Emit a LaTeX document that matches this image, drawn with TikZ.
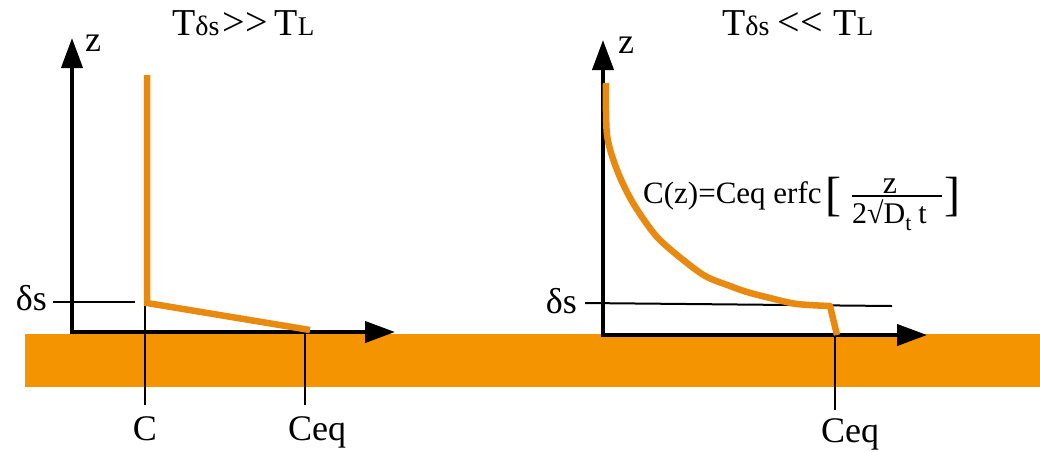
\documentclass[tikz,border=0pt]{standalone}
\usepackage{fontspec}
\setmainfont{Liberation Serif}[Ligatures=NoCommon]
\usetikzlibrary{arrows.meta}
\definecolor{band}{RGB}{243,148,0}
\definecolor{conc}{RGB}{232,137,16}
\begin{document}
\begin{tikzpicture}[x=1pt,y=-1pt,
  axisline/.style={line width=4pt,-{Triangle[length=30pt,width=21pt]}},
  tickline/.style={line width=2pt},
  concline/.style={draw=conc,line width=6.5pt,line join=miter},
  lbl/.style={font=\fontsize{36}{36}\selectfont,inner sep=0pt,anchor=base},
  title/.style={font=\fontsize{38}{38}\selectfont,inner sep=0pt,anchor=base west}]
\useasboundingbox (0,0) rectangle (1040,451);
% substrate band
\fill[band] (25,334) rectangle (1040,387);

% ---------- left panel ----------
\coordinate (LO) at (72,334);
\coordinate (LZ) at (72,38);
\coordinate (LOh) at (70,332);
\coordinate (LX) at (395,332);
\draw[axisline] (LO) -- (LZ);
\draw[axisline] (LOh) -- (LX);
\node[lbl,anchor=base west] (lz) at (85,51) {z};
\node[title] (t1) at (172,35) {T{\fontsize{28}{28}\selectfont δs}\hspace{3pt}{\fontsize{40}{40}\selectfont >{}>}\hspace{7pt}T{\fontsize{27}{27}\selectfont L}};

\coordinate (ds1a) at (53,302);
\coordinate (ds1b) at (135,302);
\draw[tickline] (ds1a) -- (ds1b);
\node[lbl,anchor=base east] (ds1) at (47,310) {δs};

\coordinate (Ctop) at (145,297);
\coordinate (Cbot) at (145,405);
\draw[tickline] (Ctop) -- (Cbot);
\node[lbl] (C) at (145,440) {C};

\coordinate (Ceq1top) at (305,333);
\coordinate (Ceq1bot) at (305,405);
\draw[tickline] (Ceq1top) -- (Ceq1bot);
\node[lbl] (Ceq1) at (317,440) {Ceq};

\coordinate (p1) at (147,75);
\coordinate (p2) at (147,303);
\coordinate (p3) at (310,330);
\draw[concline] (p1) -- (p2) -- (p3);

% ---------- right panel ----------
\coordinate (RO) at (603,337);
\coordinate (RZ) at (603,40);
\coordinate (ROh) at (601,335);
\coordinate (RX) at (927,335);
\draw[axisline] (RO) -- (RZ);
\draw[axisline] (ROh) -- (RX);
\node[lbl,anchor=base west] (rz) at (618,53) {z};
\node[title] (t2) at (722,35) {T{\fontsize{28}{28}\selectfont δs}\hspace{8pt}{\fontsize{40}{40}\selectfont <{}<}\hspace{11pt}T{\fontsize{27}{27}\selectfont L}};

\coordinate (ds2a) at (585,303);
\coordinate (ds2b) at (892,306);
\draw[tickline] (ds2a) -- (ds2b);
\node[lbl,anchor=base east] (ds2) at (577,313) {δs};

\coordinate (Ceq2top) at (835,337);
\coordinate (Ceq2bot) at (835,410);
\draw[tickline] (Ceq2top) -- (Ceq2bot);
\node[lbl] (Ceq2) at (850,442) {Ceq};

\coordinate (q0) at (606,83);
\coordinate (qend) at (830,306);
\coordinate (qbot) at (837,335);
\draw[concline,line join=round] plot[smooth,tension=0.5] coordinates {(606,83) (607,135) (617,170) (633,203) (657,237) (687,263) (707,277) (730,286) (747,292) (770,298) (797,304) (830,306)} -- (qbot);

% formula
\node[inner sep=0pt,anchor=base west,font=\fontsize{31}{31}\selectfont] (f1) at (643,203) {C(z)=Ceq erfc};
\node[inner sep=0pt,anchor=base west,font=\fontsize{48}{48}\selectfont] (lb) at (825,210) {[};
\node[inner sep=0pt,anchor=base,font=\fontsize{32}{32}\selectfont] (num) at (890,193) {z};
\coordinate (barL) at (852,196);
\coordinate (barR) at (942,196);
\draw[line width=2pt] (barL) -- (barR);
\node[inner sep=0pt,anchor=base west,font=\fontsize{30}{30}\selectfont] (den) at (852,223) {2√D\raisebox{-7pt}{\fontsize{22}{22}\selectfont t}\hspace{7pt}t};
\node[inner sep=0pt,anchor=base west,font=\fontsize{48}{48}\selectfont] (rb) at (944,210) {]};
\end{tikzpicture}
\end{document}
